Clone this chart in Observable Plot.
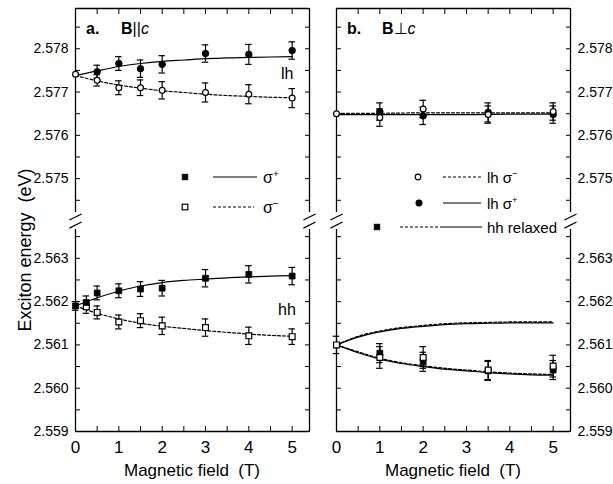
<!DOCTYPE html>
<html><head><meta charset="utf-8">
<script src="https://cdn.jsdelivr.net/npm/d3@7"></script>
<script src="https://cdn.jsdelivr.net/npm/@observablehq/plot@0.6"></script>
<style>
body{margin:0;background:#fff;}
#wrap{display:flex;width:613px;height:484px;overflow:hidden;}
svg text{font-family:Arial,"Liberation Sans",Helvetica,sans-serif;}
</style></head><body><div id="wrap"></div>
<script>
// ---------- axis / ticks ----------
const xDomain = [0, 5.4];
const xMajor = [0, 1, 2, 3, 4, 5];
const xMinor = [0.5, 1.5, 2.5, 3.5, 4.5];
const yMajor = [2.559, 2.560, 2.561, 2.562, 2.563, 2.575, 2.576, 2.577, 2.578];
const yMinor = [2.5595, 2.5605, 2.5615, 2.5625, 2.5635, 2.5745, 2.5755, 2.5765, 2.5775, 2.5785];
const yLow = 2.559, yTop = 2.57893;   // visible energy range (upper section)
const breakOffset = 0.01016;          // energy removed by the axis break
const gapLowE = 2.563665, gapHighE = 2.574218; // where the frame is interrupted
const slashE = [2.563769, 2.574114];

// ---------- panel a: B || c ----------
const aLhPlusB = [0.5, 1, 1.5, 2, 3, 4, 5];
const aLhPlusE = [2.57747, 2.57766, 2.57754, 2.57764, 2.57789, 2.57787, 2.57796];
const aLhPlusErr = [0.00015, 0.00016, 0.0002, 0.0002, 0.0002, 0.00023, 0.0002];
const aLhMinusB = [0, 0.5, 1, 1.5, 2, 3, 4, 5];
const aLhMinusE = [2.57741, 2.57727, 2.57710, 2.57710, 2.57704, 2.57699, 2.57695, 2.57686];
const aLhMinusErr = [0, 0.00013, 0.00016, 0.00018, 0.0002, 0.00022, 0.00022, 0.00022];
const aHhPlusB = [0, 0.25, 0.5, 1, 1.5, 2, 3, 4, 5];
const aHhPlusE = [2.56190, 2.56198, 2.56220, 2.56225, 2.56229, 2.56231, 2.56254, 2.56263, 2.56259];
const aHhPlusErr = [0.0001, 0.00015, 0.00016, 0.00016, 0.00017, 0.00018, 0.0002, 0.0002, 0.0002];
const aHhMinusB = [0.25, 0.5, 1, 1.5, 2, 3, 4, 5];
const aHhMinusE = [2.56188, 2.56175, 2.56153, 2.56156, 2.56144, 2.56140, 2.56121, 2.56119];
const aHhMinusErr = [0.00015, 0.00015, 0.00016, 0.00016, 0.0002, 0.0002, 0.0002, 0.00018];
const fitB = [0, 0.5, 1, 1.5, 2, 2.5, 3, 3.5, 4, 4.5, 5];
const aLhPlusFit = [2.57738, 2.57749, 2.57759, 2.57766, 2.57771, 2.57774, 2.57777, 2.57779, 2.5778, 2.57781, 2.57782];
const aLhMinusFit = [2.57738, 2.57726, 2.57716, 2.57709, 2.57703, 2.57699, 2.57695, 2.57692, 2.5769, 2.57688, 2.57687];
const aHhPlusFit = [2.5619, 2.56209, 2.56224, 2.56236, 2.56244, 2.56249, 2.56252, 2.56255, 2.56257, 2.56259, 2.5626];
const aHhMinusFit = [2.5619, 2.56173, 2.5616, 2.5615, 2.56143, 2.56138, 2.56133, 2.56129, 2.56125, 2.56122, 2.5612];

// ---------- panel b: B ⊥ c ----------
const bLhMinusB = [0, 1, 2, 3.5, 5];
const bLhMinusE = [2.5765, 2.57641, 2.57661, 2.57648, 2.57655];
const bLhMinusErr = [0, 0.0002, 0.0002, 0.0002, 0.0002];
const bLhPlusB = [1, 2, 3.5, 5];
const bLhPlusE = [2.57655, 2.57645, 2.57653, 2.57648];
const bLhPlusErr = [0.0002, 0.0002, 0.00022, 0.0002];
const bHhFilledB = [1, 2, 3.5, 5];
const bHhFilledE = [2.56081, 2.56061, 2.5604, 2.56042];
const bHhFilledErr = [0.00022, 0.00022, 0.00022, 0.00022];
const bHhOpenB = [0, 1, 2, 3.5, 5];
const bHhOpenE = [2.561, 2.56071, 2.56071, 2.56042, 2.56051];
const bHhOpenErr = [0.0002, 0.00025, 0.00025, 0.00022, 0.00025];
const bFitB = [0, 1, 2, 3, 4, 5];
const bLhPlusFit = [2.57648, 2.57648, 2.57648, 2.57648, 2.57649, 2.57649];
const bLhMinusFit = [2.57651, 2.57651, 2.57652, 2.57652, 2.57652, 2.57652];
const bHhUpSolid = [2.561, 2.56118, 2.5613, 2.56138, 2.56143, 2.56147, 2.56149, 2.5615, 2.56151, 2.56151, 2.56151];
const bHhUpDash = [2.561, 2.5612, 2.56132, 2.5614, 2.56145, 2.56149, 2.56151, 2.56152, 2.56153, 2.56153, 2.56153];
const bHhLowSolid = [2.561, 2.56082, 2.56067, 2.56057, 2.5605, 2.56044, 2.5604, 2.56036, 2.56033, 2.56031, 2.5603];
const bHhLowDash = [2.561, 2.56084, 2.56069, 2.56059, 2.56052, 2.56046, 2.56042, 2.56038, 2.56035, 2.56033, 2.56032];

// ---------- helpers ----------
const ty = v => v > 2.57 ? v - breakOffset : v;
const yDomain = [yLow, ty(yTop)];
const rec = (xs, ys, es) => xs.map((x, i) => ({x, y: ys[i], e: es ? es[i] : 0}));
const fmt = d => (d > 2.5645 ? d + breakOffset : d).toFixed(3);
const FONT = 'Arial, "Liberation Sans", Helvetica, sans-serif';
const SW = 1.2;

function errorMarks(data) {
  const d = data.filter(r => r.e > 0);
  return [
    Plot.ruleX(d, {x: "x", y1: r => ty(r.y - r.e), y2: r => ty(r.y + r.e), strokeWidth: SW}),
    Plot.ruleY(d, {y: r => ty(r.y + r.e), x1: r => r.x - 0.075, x2: r => r.x + 0.075, strokeWidth: SW}),
    Plot.ruleY(d, {y: r => ty(r.y - r.e), x1: r => r.x - 0.075, x2: r => r.x + 0.075, strokeWidth: SW})
  ];
}
function fitLine(xs, ys, dashed) {
  return Plot.line(rec(xs, ys), {x: "x", y: r => ty(r.y), curve: "monotone-x", stroke: "black",
    strokeWidth: SW, strokeDasharray: dashed ? "3,2" : null});
}
function pts(data, symbol, filled) {
  return Plot.dot(data, {x: "x", y: r => ty(r.y), symbol, r: symbol === "square" ? 3.3 : (filled ? 3.3 : 2.9),
    fill: filled ? "black" : "white", stroke: "black", strokeWidth: filled ? 0.8 : 1.2});
}
function frameMarks() {
  const slashes = [];
  for (const xe of xDomain) for (const c of slashE) slashes.push({xe, c: ty(c)});
  return [
    Plot.ruleY(yDomain, {strokeWidth: 1.3}),
    Plot.ruleX(xDomain, {y1: yLow, y2: gapLowE, strokeWidth: 1.3}),
    Plot.ruleX(xDomain, {y1: ty(gapHighE), y2: yDomain[1], strokeWidth: 1.3}),
    Plot.link(slashes, {x1: s => s.xe - 0.14, x2: s => s.xe + 0.14, y1: s => s.c - 0.00007, y2: s => s.c + 0.00007, strokeWidth: 1.3})
  ];
}
function axisMarks(labelSide) {
  const other = labelSide === "left" ? "right" : "left";
  const blank = () => "";
  return [
    Plot.axisY({ticks: yMajor.map(ty), anchor: labelSide, tickSize: -5, tickPadding: 12, tickFormat: fmt, fontSize: 14, label: null}),
    Plot.axisY({ticks: yMinor.map(ty), anchor: labelSide, tickSize: -5, tickFormat: blank, label: null}),
    Plot.axisY({ticks: yMajor.concat(yMinor).map(ty), anchor: other, tickSize: -5, tickFormat: blank, label: null}),
    Plot.axisX({ticks: xMajor, anchor: "bottom", tickSize: -5, tickPadding: 14, fontSize: 17, tickFormat: d => String(d), label: null}),
    Plot.axisX({ticks: xMinor, anchor: "bottom", tickSize: -5, tickFormat: blank, label: null}),
    Plot.axisX({ticks: xMajor.concat(xMinor), anchor: "top", tickSize: -5, tickFormat: blank, label: null})
  ];
}
function makePlot(width, ml, mr, labelSide, marks) {
  return Plot.plot({
    width, height: 484, marginTop: 8, marginBottom: 53, marginLeft: ml, marginRight: mr,
    x: {domain: xDomain, axis: null},
    y: {domain: yDomain, axis: null},
    style: {fontFamily: FONT, background: "white", overflow: "visible", color: "black"},
    marks: [...frameMarks(), ...axisMarks(labelSide), ...marks]
  });
}

// ---------- panel a ----------
const aLhP = rec(aLhPlusB, aLhPlusE, aLhPlusErr), aLhM = rec(aLhMinusB, aLhMinusE, aLhMinusErr);
const aHhP = rec(aHhPlusB, aHhPlusE, aHhPlusErr), aHhM = rec(aHhMinusB, aHhMinusE, aHhMinusErr);
const plotA = makePlot(322, 75, 13, "left", [
  ...errorMarks(aLhP), ...errorMarks(aLhM), ...errorMarks(aHhP), ...errorMarks(aHhM),
  fitLine(fitB, aLhPlusFit, false), fitLine(fitB, aLhMinusFit, true),
  fitLine(fitB, aHhPlusFit, false), fitLine(fitB, aHhMinusFit, true),
  pts(aLhM, "circle", false), pts(aLhP, "circle", true),
  pts(aHhM, "square", false), pts(aHhP, "square", true)
]);

// ---------- panel b ----------
const bLhM = rec(bLhMinusB, bLhMinusE, bLhMinusErr), bLhP = rec(bLhPlusB, bLhPlusE, bLhPlusErr);
const bHhF = rec(bHhFilledB, bHhFilledE, bHhFilledErr), bHhO = rec(bHhOpenB, bHhOpenE, bHhOpenErr);
const plotB = makePlot(291, 14, 43, "right", [
  ...errorMarks(bLhM), ...errorMarks(bLhP), ...errorMarks(bHhF), ...errorMarks(bHhO),
  fitLine(bFitB, bLhPlusFit, false), fitLine(bFitB, bLhMinusFit, true),
  fitLine(fitB, bHhUpSolid, false), fitLine(fitB, bHhUpDash, true),
  fitLine(fitB, bHhLowSolid, false), fitLine(fitB, bHhLowDash, true),
  pts(bHhF, "square", true), pts(bHhO, "square", false),
  pts(bLhP, "circle", true), pts(bLhM, "circle", false)
]);

const wrap = document.getElementById("wrap");
wrap.appendChild(plotA);
wrap.appendChild(plotB);

// ---------- annotations (texts, legends) ----------
function txt(svg, x, y, parts, size = 16, anchor = "start") {
  const t = d3.select(svg).append("text").attr("x", x).attr("y", y).attr("font-size", size)
    .attr("text-anchor", anchor).attr("font-family", FONT).attr("fill", "black");
  for (const p of parts) {
    const s = t.append("tspan").text(p.t);
    if (p.b) s.attr("font-weight", "bold");
    if (p.i) s.attr("font-style", "italic");
    if (p.sup) s.attr("font-size", size * 0.62).attr("dy", -6);
  }
  return t;
}
function hline(svg, x1, x2, y, dashed) {
  d3.select(svg).append("line").attr("x1", x1).attr("x2", x2).attr("y1", y).attr("y2", y)
    .attr("stroke", "black").attr("stroke-width", SW).attr("stroke-dasharray", dashed ? "3,2" : null);
}
function sq(svg, cx, cy, filled) {
  d3.select(svg).append("rect").attr("x", cx - 2.8).attr("y", cy - 2.8).attr("width", 5.6).attr("height", 5.6)
    .attr("fill", filled ? "black" : "white").attr("stroke", "black").attr("stroke-width", filled ? 0.8 : 1.2);
}
function circ(svg, cx, cy, filled) {
  d3.select(svg).append("circle").attr("cx", cx).attr("cy", cy).attr("r", filled ? 3.2 : 2.8)
    .attr("fill", filled ? "black" : "white").attr("stroke", "black").attr("stroke-width", filled ? 0.8 : 1.2);
}

// panel a texts
txt(plotA, 86, 34, [{t: "a.", b: true}]);
txt(plotA, 121, 34, [{t: "B", b: true}, {t: "||"}, {t: "c", i: true}]);
txt(plotA, 281, 79, [{t: "lh"}]);
txt(plotA, 278, 315, [{t: "hh"}]);
sq(plotA, 185, 177, true); hline(plotA, 213, 257, 177, false);
txt(plotA, 263, 183, [{t: "σ"}, {t: "+", sup: true}]);
sq(plotA, 185, 207, false); hline(plotA, 213, 254, 207, true);
txt(plotA, 263, 213, [{t: "σ"}, {t: "−", sup: true}]);
txt(plotA, 0, 0, [{t: "Exciton energy  (eV)"}], 18, "middle").attr("transform", "translate(31,250) rotate(-90)");
txt(plotA, 192, 476, [{t: "Magnetic field  (T)"}], 17, "middle");

// panel b texts (svg starts at x=322)
const ox = 322;
txt(plotB, 347 - ox, 34, [{t: "b.", b: true}]);
txt(plotB, 382 - ox, 34, [{t: "B", b: true}, {t: "⊥"}, {t: "c", i: true}]);
circ(plotB, 418 - ox, 177, false); hline(plotB, 443 - ox, 481 - ox, 177, true);
txt(plotB, 487 - ox, 183, [{t: "lh σ"}, {t: "−", sup: true}], 15);
circ(plotB, 419 - ox, 203, true); hline(plotB, 443 - ox, 481 - ox, 203, false);
txt(plotB, 487 - ox, 209, [{t: "lh σ"}, {t: "+", sup: true}], 15);
sq(plotB, 377 - ox, 227, true); hline(plotB, 400 - ox, 443 - ox, 227, true); hline(plotB, 443 - ox, 482 - ox, 227, false);
txt(plotB, 487 - ox, 233, [{t: "hh relaxed"}], 15);
txt(plotB, 453 - ox, 476, [{t: "Magnetic field  (T)"}], 17, "middle");
</script>
</body></html>
